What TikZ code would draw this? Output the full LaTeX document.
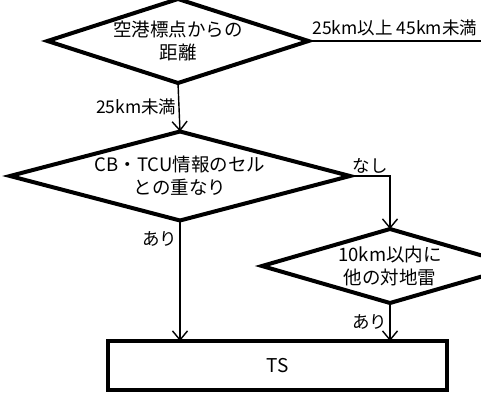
\documentclass[tikz,border=0pt]{standalone}
\usepackage{fontspec}
\setmainfont{Noto Sans CJK JP}
\usetikzlibrary{arrows.meta,positioning,shapes.geometric}

\begin{document}
\begin{tikzpicture}[x=1pt,y=-1pt,
        dec/.style={diamond,draw,line width=4pt,inner sep=0pt,outer sep=0pt,
                    align=center,font=\fontsize{18.5}{23}\selectfont},
        res/.style={rectangle,draw,line width=4pt,inner sep=0pt,outer sep=0pt,
                    font=\fontsize{19}{22}\selectfont},
        ln/.style={line width=1.4pt},
        arr/.style={ln,-{Straight Barb[length=9pt,width=15pt,line width=1.4pt]}},
        lbl/.style={font=\fontsize{17.5}{20}\selectfont,inner sep=2pt}]
        \useasboundingbox (0,0) rectangle (481,393);
        \node[dec,minimum width=261pt,minimum height=84pt,aspect=3.1] (dist) at (178,41)
          {空港標点からの\\距離};
        \node[dec,minimum width=340pt,minimum height=89pt,aspect=3.8] (overlap) at (180,176)
          {CB・TCU情報のセル\\との重なり};
        \node[dec,minimum width=256pt,minimum height=74pt,aspect=3.46] (check) at (390,266)
          {10km以内に\\他の対地雷};
        \node[res,minimum width=339pt,minimum height=49pt] (ts) at (277.5,365.5) {TS};
        \coordinate (far) at (481,41);
        % connectors
        \draw[ln] (dist.east) -- (far) node[lbl,midway,above,yshift=2pt] {25km以上 45km未満};
        \draw[arr] (dist.south) -- (overlap.north) node[lbl,midway,left] {25km未満};
        \draw[arr] (overlap.east) -| (check.north) node[lbl,pos=0.25,above] {なし};
        \draw[arr] (overlap.south) -- (overlap.south |- ts.north) node[lbl,pos=0.15,left] {あり};
        \draw[arr] (check.south) -- (check.south |- ts.north) node[lbl,midway,left] {あり};
      \end{tikzpicture}
\end{document}
